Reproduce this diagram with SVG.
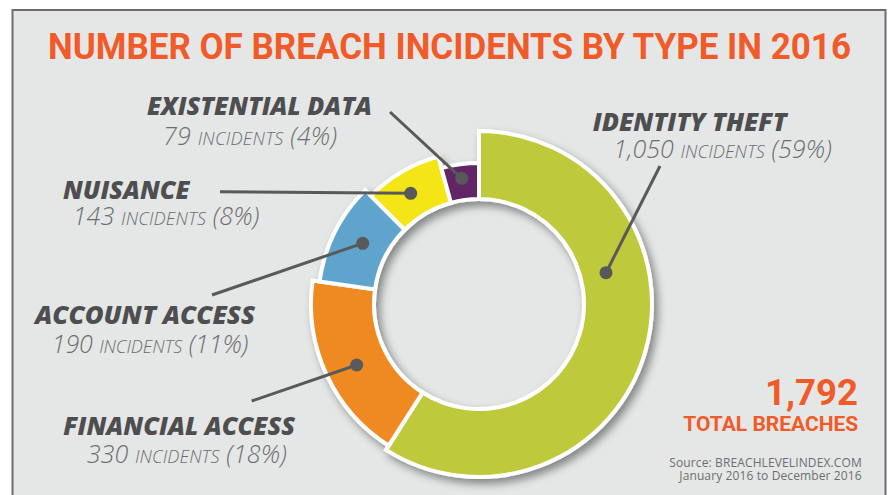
<svg xmlns="http://www.w3.org/2000/svg" width="888" height="495" viewBox="0 0 888 495">
  <defs>
    <filter id="ringShadow" x="-20%" y="-20%" width="140%" height="140%">
      <feDropShadow dx="4" dy="5" stdDeviation="4" flood-color="#000" flood-opacity="0.42"/>
    </filter>
  </defs>
  <style>
    .title { font-family: "Liberation Sans Narrow", Roboto, "Liberation Sans", sans-serif; font-weight: bold; fill: #f15a29; }
    .label { font-family: "Open Sans", "Liberation Sans", sans-serif; font-weight: 800; font-style: italic; font-size: 25.5px; fill: #4e4e50; }
    .count { font-family: "Open Sans", "Liberation Sans", sans-serif; font-weight: 300; font-style: italic; font-size: 25px; fill: #6d6e71; }
    .count .sc { font-size: 18px; }
    .source { font-family: "Open Sans", "Liberation Sans", sans-serif; font-size: 12px; fill: #6d6e71; }
    .seg { stroke: #ffffff; stroke-width: 4; stroke-linejoin: miter; }
    .leader { stroke: #58595b; stroke-width: 3; fill: none; }
    .dot { fill: #58595b; }
  </style>

  <!-- page and frame -->
  <rect x="0" y="0" width="888" height="495" fill="#ffffff"/>
  <rect x="12.5" y="10" width="873" height="500" fill="#e4e7e6" stroke="#6b6c6e" stroke-width="2"/>

  <text class="title" x="48" y="58.5" font-size="36.5" textLength="803" lengthAdjust="spacingAndGlyphs">NUMBER OF BREACH INCIDENTS BY TYPE IN 2016</text>

  <!-- donut segments -->
  <g id="donut" filter="url(#ringShadow)">
    <g id="seg-identity-theft">
      <path class="seg" fill="#bec93b" d="M479,131 A173,173 0 1 1 386.05,449.91 L422.58,392.56 A105,105 0 1 0 479,199 Z"/>
    </g>
    <g id="seg-financial-access">
      <path class="seg" fill="#ef8a22" d="M388.73,445.69 A168,168 0 0 1 312.63,280.62 L375.02,289.38 A105,105 0 0 0 422.58,392.56 Z"/>
    </g>
    <g id="seg-account-access">
      <path class="seg" fill="#5ea4cd" d="M319.56,281.59 A161,161 0 0 1 365.16,190.16 L404.75,229.75 A105,105 0 0 0 375.02,289.38 Z"/>
    </g>
    <g id="seg-nuisance">
      <path class="seg" fill="#f4e613" d="M370.81,195.81 A153,153 0 0 1 438.12,156.57 L450.94,202.82 A105,105 0 0 0 404.75,229.75 Z"/>
    </g>
    <g id="seg-existential-data">
      <path class="seg" fill="#622566" d="M441.32,168.13 A141,141 0 0 1 479,163 L479,199 A105,105 0 0 0 450.94,202.82 Z"/>
    </g>
  </g>

  <!-- leader lines -->
  <g id="connectors">
    <line class="leader" x1="390" y1="112" x2="461.7" y2="178.3"/>
    <circle class="dot" cx="461.7" cy="178.3" r="6.5"/>
    <line class="leader" x1="220" y1="191.7" x2="410.7" y2="193.3"/>
    <circle class="dot" cx="410.7" cy="193.3" r="6.5"/>
    <line class="leader" x1="212" y1="295" x2="362.7" y2="243.3"/>
    <circle class="dot" cx="362.7" cy="243.3" r="6.5"/>
    <line class="leader" x1="251.7" y1="401" x2="356.7" y2="365"/>
    <circle class="dot" cx="356.7" cy="365" r="6.5"/>
    <line class="leader" x1="660" y1="166" x2="606" y2="272.7"/>
    <circle class="dot" cx="606" cy="272.7" r="6.5"/>
  </g>

  <!-- labels -->
  <g id="label-existential-data">
    <text class="label" x="147" y="115" textLength="225" lengthAdjust="spacingAndGlyphs">EXISTENTIAL DATA</text>
    <text class="count" x="163" y="145" textLength="174">79 <tspan class="sc">INCIDENTS</tspan> (4%)</text>
  </g>
  <g id="label-nuisance">
    <text class="label" x="63" y="199.3" textLength="126.6" lengthAdjust="spacingAndGlyphs">NUISANCE</text>
    <text class="count" x="72.7" y="225" textLength="186.6">143 <tspan class="sc">INCIDENTS</tspan> (8%)</text>
  </g>
  <g id="label-account-access">
    <text class="label" x="35" y="324.3" textLength="220" lengthAdjust="spacingAndGlyphs">ACCOUNT ACCESS</text>
    <text class="count" x="51.7" y="353.3" textLength="196.6">190 <tspan class="sc">INCIDENTS</tspan> (11%)</text>
  </g>
  <g id="label-financial-access">
    <text class="label" x="63.3" y="435" textLength="231.7" lengthAdjust="spacingAndGlyphs">FINANCIAL ACCESS</text>
    <text class="count" x="86.7" y="463.3" textLength="200">330 <tspan class="sc">INCIDENTS</tspan> (18%)</text>
  </g>
  <g id="label-identity-theft">
    <text class="label" x="592.7" y="130.7" textLength="194" lengthAdjust="spacingAndGlyphs">IDENTITY THEFT</text>
    <text class="count" x="613.3" y="158.3" textLength="218.4">1,050 <tspan class="sc">INCIDENTS</tspan> (59%)</text>
  </g>

  <!-- totals and source -->
  <g id="total">
    <text class="title" x="765" y="405" font-size="37" textLength="93" lengthAdjust="spacingAndGlyphs">1,792</text>
    <text class="title" x="683.3" y="430.7" font-size="20.5" textLength="175" lengthAdjust="spacingAndGlyphs">TOTAL BREACHES</text>
  </g>
  <g id="source">
    <text class="source" x="669.3" y="467.3" textLength="192.4">Source: BREACHLEVELINDEX.COM</text>
    <text class="source" x="679.3" y="480" textLength="182.4">January 2016 to December 2016</text>
  </g>
</svg>
